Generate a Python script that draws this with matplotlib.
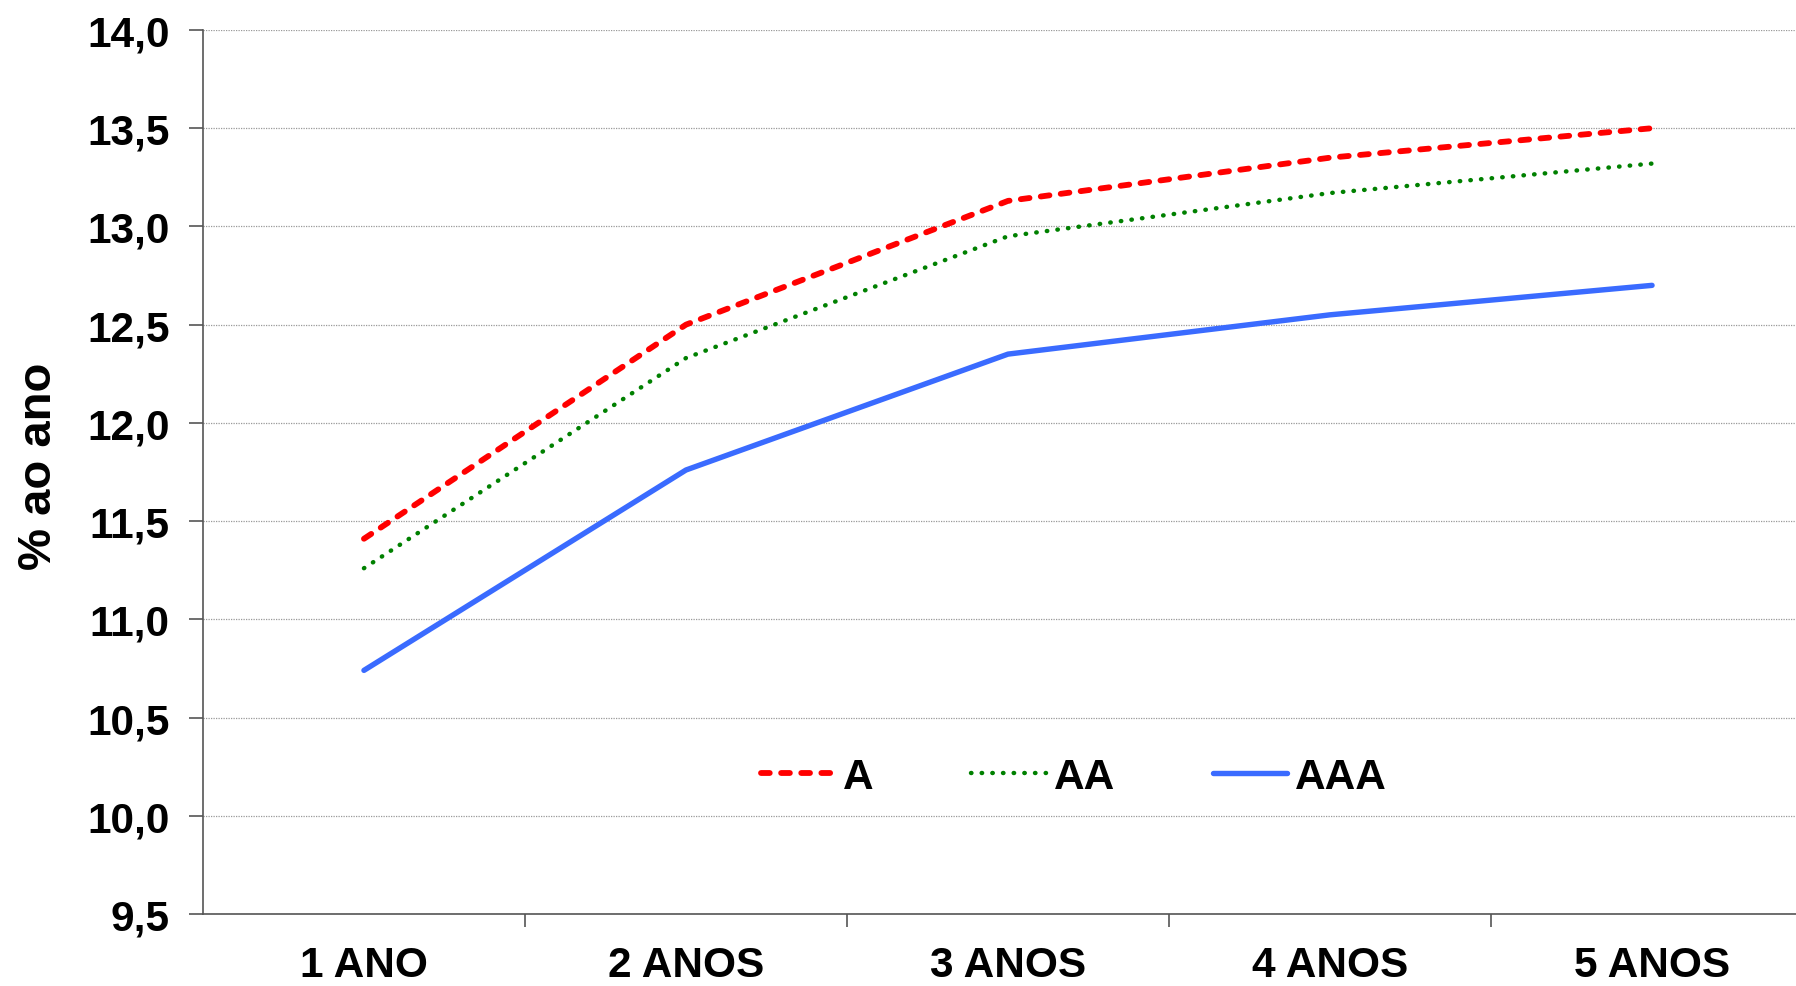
import matplotlib
matplotlib.use("Agg")
import matplotlib.pyplot as plt
from matplotlib.ticker import FixedLocator, FuncFormatter

# prazos e taxas (% ao ano)
prazos = ["1 ANO", "2 ANOS", "3 ANOS", "4 ANOS", "5 ANOS"]
taxa_A = [11.41, 12.50, 13.13, 13.35, 13.50]
taxa_AA = [11.26, 12.33, 12.95, 13.17, 13.32]
taxa_AAA = [10.74, 11.76, 12.35, 12.55, 12.70]

plt.rcParams['font.family'] = ['Liberation Sans', 'DejaVu Sans']
fs = 30.5

fig = plt.figure(figsize=(17.96, 9.87), dpi=100)
ax = fig.add_axes([0.113, 0.073, 0.8965, 0.8956])

x = range(len(prazos))
ax.plot(x, taxa_A, color='#FF0000', lw=4.2, ls=(0, (1.5, 1.95)), label='A', dash_capstyle='round')
ax.plot(x, taxa_AA, color='#008000', lw=3.2, ls=(0, (0.1, 2.3)), label='AA', dash_capstyle='round')
ax.plot(x, taxa_AAA, color='#3A6BFF', lw=3.9, ls='-', label='AAA', solid_capstyle='round')

ax.set_xlim(-0.5, 4.5)
ax.set_ylim(9.5, 14.0)
ax.set_yticks([9.5 + 0.5 * i for i in range(10)])
ax.yaxis.set_major_formatter(FuncFormatter(lambda v, p: f"{v:.1f}".replace('.', ',')))
ax.yaxis.grid(True, color='#999999', ls=(0, (1, 1)), lw=0.9)

ax.set_xticks(list(x))
ax.set_xticklabels(prazos)
ax.xaxis.set_minor_locator(FixedLocator([0.5, 1.5, 2.5, 3.5]))
ax.tick_params(axis='x', which='major', length=0, pad=22)
ax.tick_params(axis='x', which='minor', length=9, width=1.2, color='#555555', direction='out')
ax.tick_params(axis='y', length=10, width=1.2, color='#555555', direction='out', pad=14)

for lab in ax.get_xticklabels() + ax.get_yticklabels():
    lab.set_fontsize(fs)
    lab.set_fontweight('bold')

ax.set_ylabel('% ao ano', fontsize=34, fontweight='bold')
ax.yaxis.set_label_coords(-0.088, 0.508)

for s in ['top', 'right']:
    ax.spines[s].set_visible(False)
for s in ['left', 'bottom']:
    ax.spines[s].set_color('#555555')
    ax.spines[s].set_linewidth(1.2)

leg = ax.legend(loc='center', bbox_to_anchor=(0.541, 0.155), ncol=3, frameon=False,
                prop={'weight': 'bold', 'size': fs},
                handlelength=1.75, handletextpad=0.2, columnspacing=2.3)

fig.savefig('out.png', dpi=100, facecolor='white')
